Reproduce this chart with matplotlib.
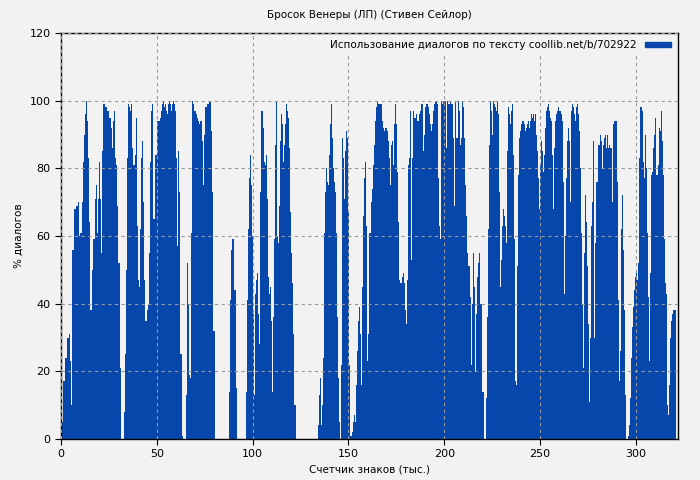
import numpy as np
import matplotlib
matplotlib.use('Agg')
import matplotlib.pyplot as plt
from matplotlib.patches import Patch

### share of dialogue per 1k characters, two readings per 1k (0.5k steps)
dialog_pairs = [
    (5,5),(17,17),(24,24),(30,30),(31,23),(10,10),(56,56),(68,68),(69,69),(70,60),
    (61,61),(70,82),(90,96),(100,94),(83,64),(38,38),(50,59),(59,63),(71,75),(61,71),
    (82,71),(55,85),(99,99),(98,98),(97,97),(95,95),(92,86),(94,97),(83,81),(69,69),
    (52,52),(21,0),(0,0),(8,25),(50,83),(99,98),(97,99),(86,81),(81,84),(95,63),
    (47,45),(62,75),(83,88),(70,47),(35,35),(38,40),(55,82),(97,99),(65,65),(84,84),
    (94,94),(94,95),(97,99),(100,99),(98,99),(97,96),(99,100),(99,97),(99,100),(99,97),
    (83,57),(85,73),(25,25),(1,0),(0,0),(13,39),(52,40),(19,18),(61,100),(99,97),
    (97,96),(95,94),(93,94),(94,88),(75,90),(98,98),(99,99),(100,100),(100,91),(73,32),
    (32,0),(0,0),(0,0),(0,0),(0,0),(0,0),(0,0),(0,14),(41,56),(58,59),
    (59,44),(44,15),(0,0),(0,0),(0,0),(0,0),(0,14),(41,62),(77,84),(75,60),
    (37,13),(31,43),(47,49),(37,28),(73,97),(97,92),(82,81),(84,71),(48,43),(45,35),
    (14,36),(59,87),(100,60),(88,58),(69,88),(96,93),(82,87),(93,99),(97,95),(86,67),
    (55,46),(31,10),(10,0),(0,0),(0,0),(0,0),(0,0),(0,0),(0,0),(0,0),
    (0,0),(0,0),(0,0),(0,0),(4,13),(18,4),(10,24),(45,61),(73,80),(76,75),
    (84,93),(99,89),(80,76),(73,61),(36,18),(5,0),(22,89),(83,71),(85,91),(90,89),
    (67,22),(1,1),(2,5),(7,5),(16,26),(35,39),(31,16),(45,66),(77,82),(63,23),
    (31,48),(61,61),(70,74),(81,87),(94,98),(100,99),(99,99),(99,94),(92,91),(92,92),
    (91,88),(83,75),(87,94),(88,81),(93,99),(93,79),(64,47),(46,46),(48,49),(46,38),
    (34,47),(81,83),(97,53),(83,97),(95,94),(95,96),(94,94),(96,97),(99,99),(85,90),
    (98,99),(99,98),(96,93),(91,93),(97,99),(100,100),(99,92),(77,63),(59,100),(99,100),
    (100,100),(86,100),(99,99),(100,99),(99,89),(69,100),(89,89),(100,97),(87,70),(89,100),
    (98,89),(75,66),(55,51),(51,42),(22,40),(55,45),(20,37),(48,52),(55,40),(40,14),
    (14,0),(0,0),(12,36),(62,87),(100,97),(90,100),(99,98),(97,100),(96,73),(45,53),
    (63,68),(66,63),(58,60),(85,98),(96,93),(97,99),(84,59),(17,16),(51,78),(89,91),
    (93,94),(94,93),(91,92),(93,94),(92,92),(94,96),(95,96),(94,96),(90,85),(77,68),
    (81,88),(85,79),(84,92),(97,98),(99,97),(95,94),(92,84),(68,86),(94,96),(97,98),
    (97,97),(96,94),(76,43),(60,77),(88,92),(88,70),(97,99),(98,96),(95,94),(98,99),
    (96,91),(80,61),(40,21),(55,72),(64,51),(34,11),(30,63),(70,88),(30,58),(76,76),
    (80,87),(87,90),(88,80),(87,89),(90,86),(90,86),(87,86),(86,70),(93,94),(94,94),
    (76,41),(17,26),(42,62),(72,56),(38,13),(0,0),(1,4),(12,24),(33,39),(44,48),
    (50,47),(52,83),(98,98),(97,82),(51,77),(90,80),(61,42),(23,49),(78,79),(86,90),
    (95,78),(78,81),(92,91),(97,88),(78,59),(46,43),(32,10),(7,16),(30,35),(37,38),
    (38,38),
]

title = 'Бросок Венеры (ЛП) (Стивен Сейлор)'
legend_label = 'Использование диалогов по тексту coollib.net/b/702922'
bar_color = '#0747ab'
bg = '#f2f2f2'

values = np.array(dialog_pairs, dtype=float).ravel()
x = np.arange(len(values)) * 0.5

fig = plt.figure(figsize=(7, 4.8), dpi=100, facecolor=bg)
ax = fig.add_axes([61/700, 41/480, 617/700, 406/480], facecolor=bg)

ax.bar(x, values, width=0.5, align='edge', color=bar_color, linewidth=0)

ax.set_xlim(0, 322)
ax.set_ylim(0, 120)
ax.set_xticks([0, 50, 100, 150, 200, 250, 300])
ax.set_yticks([0, 20, 40, 60, 80, 100, 120])
ax.tick_params(labelsize=8, length=4)
ax.grid(True, color='#999999', linestyle=(0, (3, 3)), linewidth=0.8)
ax.set_axisbelow(False)
for s in ax.spines.values():
    s.set_linewidth(1.0)

ax.set_title(title, fontsize=7.5, pad=11)
ax.set_xlabel('Счетчик знаков (тыс.)', fontsize=7.5)
ax.set_ylabel('% диалогов', fontsize=7.5)

ax.legend(handles=[Patch(color=bar_color, label=legend_label)], loc='upper right',
          frameon=True, facecolor=bg, edgecolor=bg, framealpha=1, fontsize=7.5,
          markerfirst=False, handlelength=2.5, handleheight=0.4, borderaxespad=0.3)

plt.savefig('out.png', facecolor=bg)
